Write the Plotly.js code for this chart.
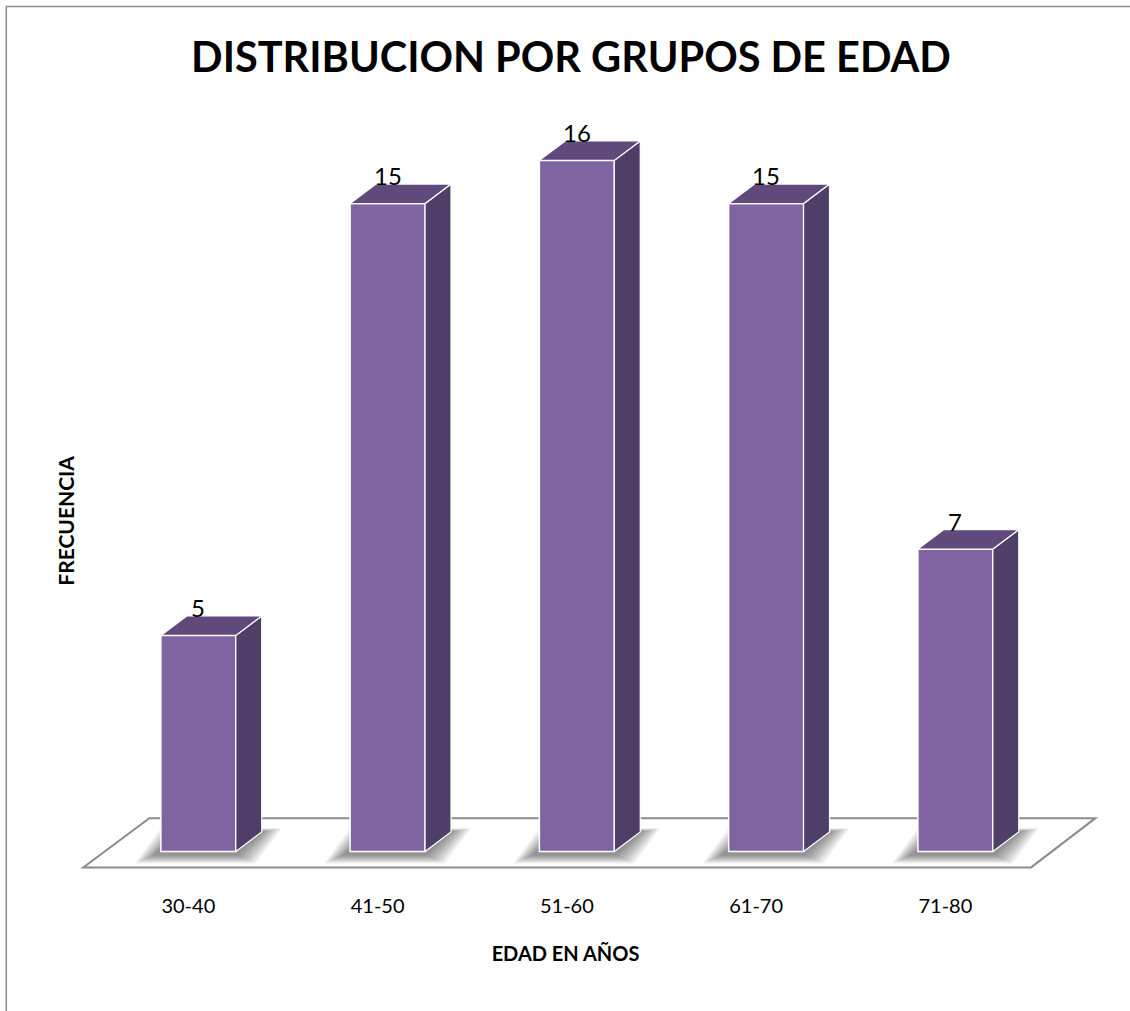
<!DOCTYPE html>
<html>
<head>
<meta charset="utf-8">
<script src="https://cdn.plot.ly/plotly-3.0.1.min.js"></script>
<style>
  html, body { margin: 0; padding: 0; background: #ffffff; }
  #chart { width: 1130px; height: 1011px; }
</style>
</head>
<body>
<div id="chart"></div>
<script>
// Age groups and how many people fall in each
const categories = ['30-40', '41-50', '51-60', '61-70', '71-80'];
const frecuencia = [5, 15, 16, 15, 7];

const chartTitle = 'DISTRIBUCION POR GRUPOS DE EDAD';
const xTitle = 'EDAD EN AÑOS';
const yTitle = 'FRECUENCIA';

// ---- look of the pseudo-3D columns ----
const FRONT = '#8064A2';
const TOP = '#5F4A7B';
const SIDE = '#4F3E67';
const EDGE = '#FFFFFF';
const FONT = 'Lato, "Open Sans", sans-serif';

const W = 1130, H = 1011;
const xRange = [-0.9, 4.78];
const yRange = [-0.5, 18];
const margin = { l: 27.7, r: 27.4, t: 73.6, b: 138.4, pad: 0 };

const barW = 0.396;   // column width in category units
const ddx = 0.137;    // depth offset along x (category units)
const ddy = 0.451;    // depth offset along y (value units)

const xs = categories.map((c, i) => i);

// top and side faces of every column, one polygon each (null separates them)
const topX = [], topY = [], sideX = [], sideY = [];
xs.forEach((x, i) => {
  const v = frecuencia[i];
  const l = x - barW / 2, r = x + barW / 2;
  topX.push(l, r, r + ddx, l + ddx, l, null);
  topY.push(v, v, v + ddy, v + ddy, v, null);
  sideX.push(r, r + ddx, r + ddx, r, r, null);
  sideY.push(0, ddy, v + ddy, v, 0, null);
});

const traces = [
  {
    type: 'bar', x: xs, y: frecuencia, width: barW,
    marker: { color: FRONT, line: { color: EDGE, width: 1.5 } },
    hoverinfo: 'x+y', showlegend: false
  },
  {
    type: 'scatter', mode: 'lines', x: sideX, y: sideY, fill: 'toself',
    fillcolor: SIDE, line: { color: EDGE, width: 1.2 },
    hoverinfo: 'skip', showlegend: false
  },
  {
    type: 'scatter', mode: 'lines', x: topX, y: topY, fill: 'toself',
    fillcolor: TOP, line: { color: EDGE, width: 1.2 },
    hoverinfo: 'skip', showlegend: false
  }
];

// floor of the chart: a parallelogram under the columns
const floor = { xFL: -0.608, xBL: -0.259, xFR: 4.40, xBR: 4.74, yF: -0.37, yB: 0.77 };
const shapes = [];
shapes.push({
  type: 'path', xref: 'x', yref: 'y', layer: 'below',
  path: `M ${floor.xFL} ${floor.yF} L ${floor.xFR} ${floor.yF} L ${floor.xBR} ${floor.yB} L ${floor.xBL} ${floor.yB} Z`,
  fillcolor: '#FFFFFF', line: { color: '#8C8C8C', width: 2 }
});

// soft shadow around each column foot, built from many faint layers
const pxX = 1 / 189.25, pxY = 1 / 43.19;
xs.forEach((x) => {
  for (let g = 20; g >= 2; g -= 2) {
    const gx = g * pxX, gy = g * 0.45 * pxY;
    const l = x - barW / 2 - gx - 6 * pxX, r = x + barW / 2 + gx;
    const y0 = -gy - 3 * pxY, y1 = ddy + gy * 0.4;
    shapes.push({
      type: 'path', xref: 'x', yref: 'y', layer: 'below',
      path: `M ${l} ${y0} L ${r} ${y0} L ${r + ddx} ${y1} L ${l + ddx} ${y1} Z`,
      fillcolor: 'rgba(0,0,0,0.05)', line: { width: 0 }
    });
  }
});

// outer frame of the chart area
const plotW = W - margin.l - margin.r, plotH = H - margin.t - margin.b;
const px2paperX = (px) => (px - margin.l) / plotW;
const px2paperY = (py) => (H - margin.b - py) / plotH;
shapes.push({
  type: 'rect', xref: 'paper', yref: 'paper', layer: 'above',
  x0: px2paperX(6), x1: px2paperX(1140), y0: px2paperY(1020), y1: px2paperY(6),
  line: { color: '#8C8C8C', width: 1.5 }, fillcolor: 'rgba(0,0,0,0)'
});

// value labels sitting just above each column top
const annotations = xs.map((x, i) => ({
  x: x, y: frecuencia[i], xref: 'x', yref: 'y',
  text: String(frecuencia[i]), showarrow: false,
  xanchor: 'center', yanchor: 'middle', yshift: 28,
  font: { family: FONT, size: 24, color: '#000000' }
}));

annotations.push({
  text: '<b>' + yTitle + '</b>', textangle: -90, showarrow: false,
  xref: 'paper', yref: 'paper', x: px2paperX(65), y: px2paperY(520),
  xanchor: 'center', yanchor: 'middle',
  font: { family: FONT, size: 21, color: '#000000' }
});

const layout = {
  width: W, height: H,
  paper_bgcolor: '#FFFFFF', plot_bgcolor: '#FFFFFF',
  margin: margin,
  showlegend: false,
  title: {
    text: '<b>' + chartTitle + '</b>',
    xref: 'container', yref: 'container',
    x: 571 / W, y: 1 - 57 / H, xanchor: 'center', yanchor: 'middle',
    font: { family: FONT, size: 41.5, color: '#000000' }
  },
  xaxis: {
    range: xRange, tickvals: xs, ticktext: categories,
    showgrid: false, zeroline: false, showline: false, ticks: '',
    ticklabelshift: -10, ticklabelstandoff: 19,
    tickfont: { family: FONT, size: 20, color: '#000000' },
    title: { text: '<b>' + xTitle + '</b>', standoff: 30,
             font: { family: FONT, size: 20, color: '#000000' } },
    fixedrange: true
  },
  yaxis: {
    range: yRange, showgrid: false, zeroline: false, showline: false,
    showticklabels: false, ticks: '', fixedrange: true
  },
  shapes: shapes,
  annotations: annotations
};

Plotly.newPlot('chart', traces, layout, { displayModeBar: false, staticPlot: true });
</script>
</body>
</html>
